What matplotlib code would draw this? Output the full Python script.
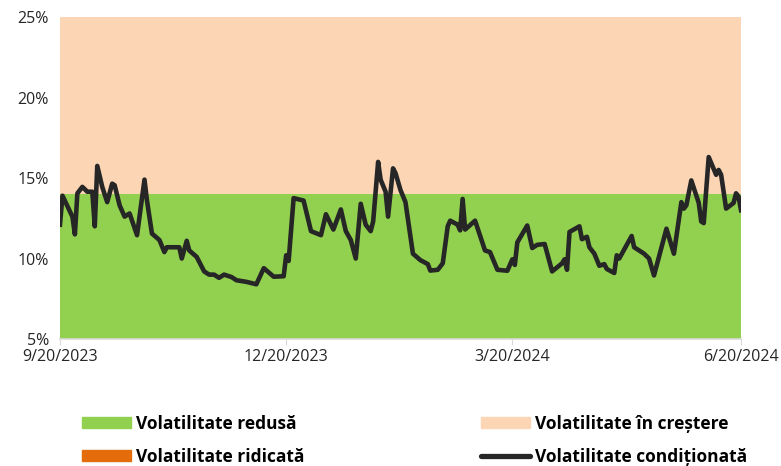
import matplotlib
matplotlib.use("Agg")
import matplotlib.pyplot as plt
from matplotlib.patches import Patch
from matplotlib.lines import Line2D
from matplotlib.ticker import FuncFormatter
import pandas as pd

# conditional volatility, %
dates = [
    "2023-09-20", "2023-09-21", "2023-09-25", "2023-09-26", "2023-09-27", "2023-09-29",
    "2023-10-01", "2023-10-03", "2023-10-04", "2023-10-05", "2023-10-07", "2023-10-09",
    "2023-10-11", "2023-10-12", "2023-10-14", "2023-10-16", "2023-10-18", "2023-10-21",
    "2023-10-24", "2023-10-25", "2023-10-27", "2023-10-30", "2023-11-01", "2023-11-02",
    "2023-11-07", "2023-11-08", "2023-11-10", "2023-11-11", "2023-11-14", "2023-11-17",
    "2023-11-19", "2023-11-21", "2023-11-23", "2023-11-25", "2023-11-28", "2023-11-30",
    "2023-12-04", "2023-12-08", "2023-12-11", "2023-12-15", "2023-12-19", "2023-12-20",
    "2023-12-21", "2023-12-23", "2023-12-27", "2023-12-30", "2024-01-03", "2024-01-05",
    "2024-01-08", "2024-01-11", "2024-01-13", "2024-01-15", "2024-01-17", "2024-01-19",
    "2024-01-21", "2024-01-23", "2024-01-24", "2024-01-26", "2024-01-27", "2024-01-29",
    "2024-01-30", "2024-02-01", "2024-02-02", "2024-02-04", "2024-02-06", "2024-02-09",
    "2024-02-12", "2024-02-15", "2024-02-16", "2024-02-19", "2024-02-21", "2024-02-23",
    "2024-02-24", "2024-02-27", "2024-02-28", "2024-02-29", "2024-03-01", "2024-03-05",
    "2024-03-09", "2024-03-11", "2024-03-14", "2024-03-18", "2024-03-20", "2024-03-21",
    "2024-03-22", "2024-03-26", "2024-03-28", "2024-03-30", "2024-04-02", "2024-04-05",
    "2024-04-09", "2024-04-10", "2024-04-11", "2024-04-12", "2024-04-16", "2024-04-17",
    "2024-04-19", "2024-04-20", "2024-04-22", "2024-04-24", "2024-04-26", "2024-04-27",
    "2024-04-30", "2024-05-01", "2024-05-02", "2024-05-07", "2024-05-08", "2024-05-12",
    "2024-05-14", "2024-05-16", "2024-05-21", "2024-05-24", "2024-05-27", "2024-05-28",
    "2024-05-29", "2024-05-31", "2024-06-03", "2024-06-04", "2024-06-05", "2024-06-07",
    "2024-06-10", "2024-06-11", "2024-06-12", "2024-06-14", "2024-06-17", "2024-06-18",
    "2024-06-19", "2024-06-20",
]
vol = [
    12.1, 13.9, 12.6, 11.5, 14.05, 14.45,
    14.15, 14.15, 12.0, 15.75, 14.45, 13.5,
    14.65, 14.55, 13.3, 12.6, 12.8, 11.45,
    14.9, 13.6, 11.55, 11.15, 10.4, 10.7,
    10.7, 10.0, 11.1, 10.5, 10.1, 9.2,
    9.0, 9.0, 8.8, 9.0, 8.85, 8.65,
    8.55, 8.4, 9.4, 8.87, 8.9, 10.2,
    9.85, 13.75, 13.6, 11.7, 11.45, 12.75,
    11.8, 13.05, 11.7, 11.15, 10.0, 13.4,
    12.1, 11.7, 12.3, 16.0, 14.9, 14.15,
    12.6, 15.6, 15.3, 14.25, 13.5, 10.3,
    9.9, 9.65, 9.25, 9.3, 9.7, 12.0,
    12.35, 12.1, 11.75, 13.7, 11.8, 12.35,
    10.5, 10.4, 9.3, 9.24, 9.95, 9.6,
    11.0, 12.05, 10.65, 10.85, 10.9, 9.2,
    9.7, 9.95, 9.3, 11.65, 12.0, 11.2,
    11.35, 10.7, 10.3, 9.55, 9.65, 9.35,
    9.1, 10.2, 10.0, 11.4, 10.7, 10.3,
    10.0, 8.95, 11.85, 10.3, 13.5, 13.1,
    13.3, 14.85, 13.45, 12.3, 12.2, 16.3,
    15.2, 15.5, 15.2, 13.1, 13.45, 14.05,
    13.85, 13.0,
]

# regime bands, %
low_band = (5, 14)
rising_band = (14, 25)

tick_dates = ["2023-09-20", "2023-12-20", "2024-03-20", "2024-06-20"]
tick_labels = ["9/20/2023", "12/20/2023", "3/20/2024", "6/20/2024"]
y_ticks = [5, 10, 15, 20, 25]

labels = ["Volatilitate redusă", "Volatilitate ridicată",
          "Volatilitate în creștere", "Volatilitate condiționată"]

GREEN = "#92D050"
PEACH = "#FCD5B5"
ORANGE = "#E46C0A"
LINE = "#262626"

plt.rcParams["font.family"] = ["Open Sans", "DejaVu Sans"]

x = pd.to_datetime(dates)
ticks_x = pd.to_datetime(tick_dates)

fig = plt.figure(figsize=(7.81, 4.66), dpi=100)
ax = fig.add_axes([0.0768, 0.2725, 0.872, 0.691])

ax.axhspan(*low_band, color=GREEN, lw=0, zorder=1)
ax.axhspan(*rising_band, color=PEACH, lw=0, zorder=1)
ax.plot(x, vol, color=LINE, lw=3.3, solid_joinstyle="round", zorder=3)

ax.set_xlim(ticks_x[0], ticks_x[-1])
ax.set_ylim(5, 25)
ax.set_yticks(y_ticks)
ax.yaxis.set_major_formatter(FuncFormatter(lambda v, p: f"{v:.0f}%"))
ax.set_xticks(ticks_x)
ax.set_xticklabels(tick_labels)

for s in ["top", "right", "left"]:
    ax.spines[s].set_visible(False)
ax.spines["bottom"].set_color("#D9D9D9")
ax.spines["bottom"].set_linewidth(1.2)
ax.tick_params(axis="y", length=0, labelsize=11.5, colors="#262626", pad=8)
ax.tick_params(axis="x", length=4, color="#D9D9D9", labelsize=11.5,
               labelcolor="#262626", pad=3)

h_left = [Patch(color=GREEN), Patch(color=ORANGE)]
h_right = [Patch(color=PEACH),
           Line2D([0], [0], color=LINE, lw=3.8, solid_capstyle="round")]
leg_kw = dict(frameon=False, handlelength=2.8, handleheight=0.6,
              handletextpad=0.3, labelspacing=0.85, borderpad=0,
              borderaxespad=0, prop={"weight": "bold", "size": 12.5})
fig.legend(h_left, labels[:2], loc="upper left",
           bbox_to_anchor=(82 / 781, 1 - 415 / 466), **leg_kw)
fig.legend(h_right, labels[2:], loc="upper left",
           bbox_to_anchor=(481 / 781, 1 - 415 / 466), **leg_kw)

fig.savefig("out.png", dpi=100)
